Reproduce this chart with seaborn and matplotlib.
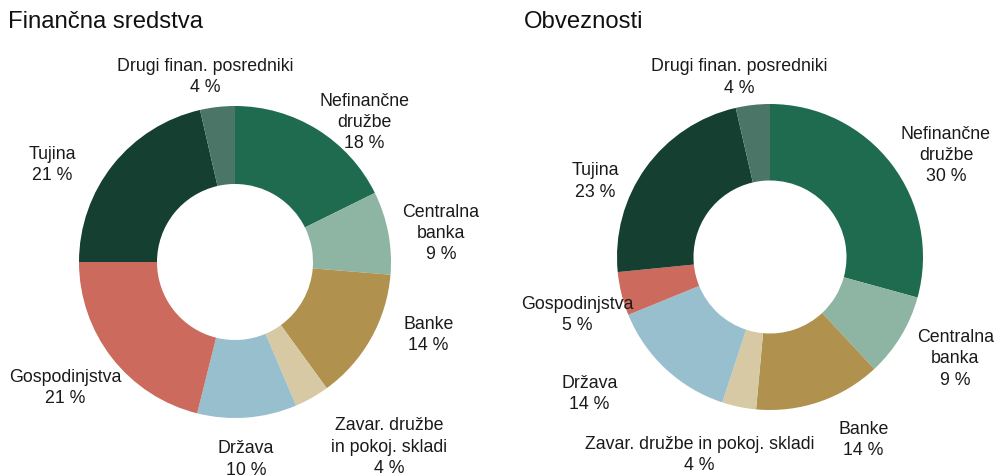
import matplotlib
matplotlib.use("Agg")
import matplotlib.pyplot as plt
import seaborn as sns

# sectors, clockwise from 12 o'clock
sectors = ["Nefinančne\ndružbe", "Centralna\nbanka", "Banke", "Zavar. družbe\nin pokoj. skladi",
           "Država", "Gospodinjstva", "Tujina", "Drugi finan. posredniki"]
sectors_right = ["Nefinančne\ndružbe", "Centralna\nbanka", "Banke", "Zavar. družbe in pokoj. skladi",
                 "Država", "Gospodinjstva", "Tujina", "Drugi finan. posredniki"]

assets_share = [17.7, 8.6, 13.7, 3.6, 10.3, 21.1, 21.4, 3.6]
assets_label = [18, 9, 14, 4, 10, 21, 21, 4]
liab_share = [29.3, 8.8, 13.4, 3.6, 13.8, 4.6, 23.0, 3.6]
liab_label = [30, 9, 14, 4, 14, 5, 23, 4]

colors = ["#1F6B50", "#8EB4A4", "#B0914D", "#D6C9A4", "#98BFCE", "#CB6A5D", "#153F30", "#4B7567"]

# label offsets in units of the outer radius (layout only)
pos_left = [(0.83, 0.90), (1.32, 0.19), (1.24, -0.46), (0.99, -1.18),
            (0.07, -1.26), (-1.09, -0.80), (-1.17, 0.63), (-0.19, 1.19)]
pos_right = [(1.15, 0.67), (1.21, -0.66), (0.61, -1.19), (-0.46, -1.29),
             (-1.18, -0.89), (-1.26, -0.37), (-1.14, 0.50), (-0.20, 1.18)]

sns.set_theme(style="white")
plt.rcParams["font.family"] = ["Liberation Sans", "DejaVu Sans"]

W, H = 994, 477
fig = plt.figure(figsize=(W / 100, H / 100), dpi=100)
ax = fig.add_axes([0, 0, 1, 1])

pal = sns.color_palette(colors)


def donut(share, labels, names, pos, cx, cy, r):
    ax.pie(share, colors=pal, startangle=90, counterclock=False,
           center=(cx, H - cy), radius=r,
           wedgeprops=dict(width=r * 0.5, linewidth=0))
    for name, lab, (dx, dy) in zip(names, labels, pos):
        ax.text(cx + dx * r, H - cy + dy * r, f"{name}\n{lab} %",
                ha="center", va="center", fontsize=12.8, color="#1a1a1a",
                linespacing=1.32, clip_on=False)


donut(assets_share, assets_label, sectors, pos_left, 235, 263, 156)
donut(liab_share, liab_label, sectors_right, pos_right, 770, 258, 153)

ax.set_xlim(0, W)
ax.set_ylim(0, H)
ax.set_aspect("equal")
ax.axis("off")

fig.text(8 / W, 1 - 22 / H, "Finančna sredstva", fontsize=17.2, va="center", ha="left",
         color="#111111")
fig.text(524 / W, 1 - 22 / H, "Obveznosti", fontsize=17.2, va="center", ha="left",
         color="#111111")

fig.savefig("out.png", dpi=100)
